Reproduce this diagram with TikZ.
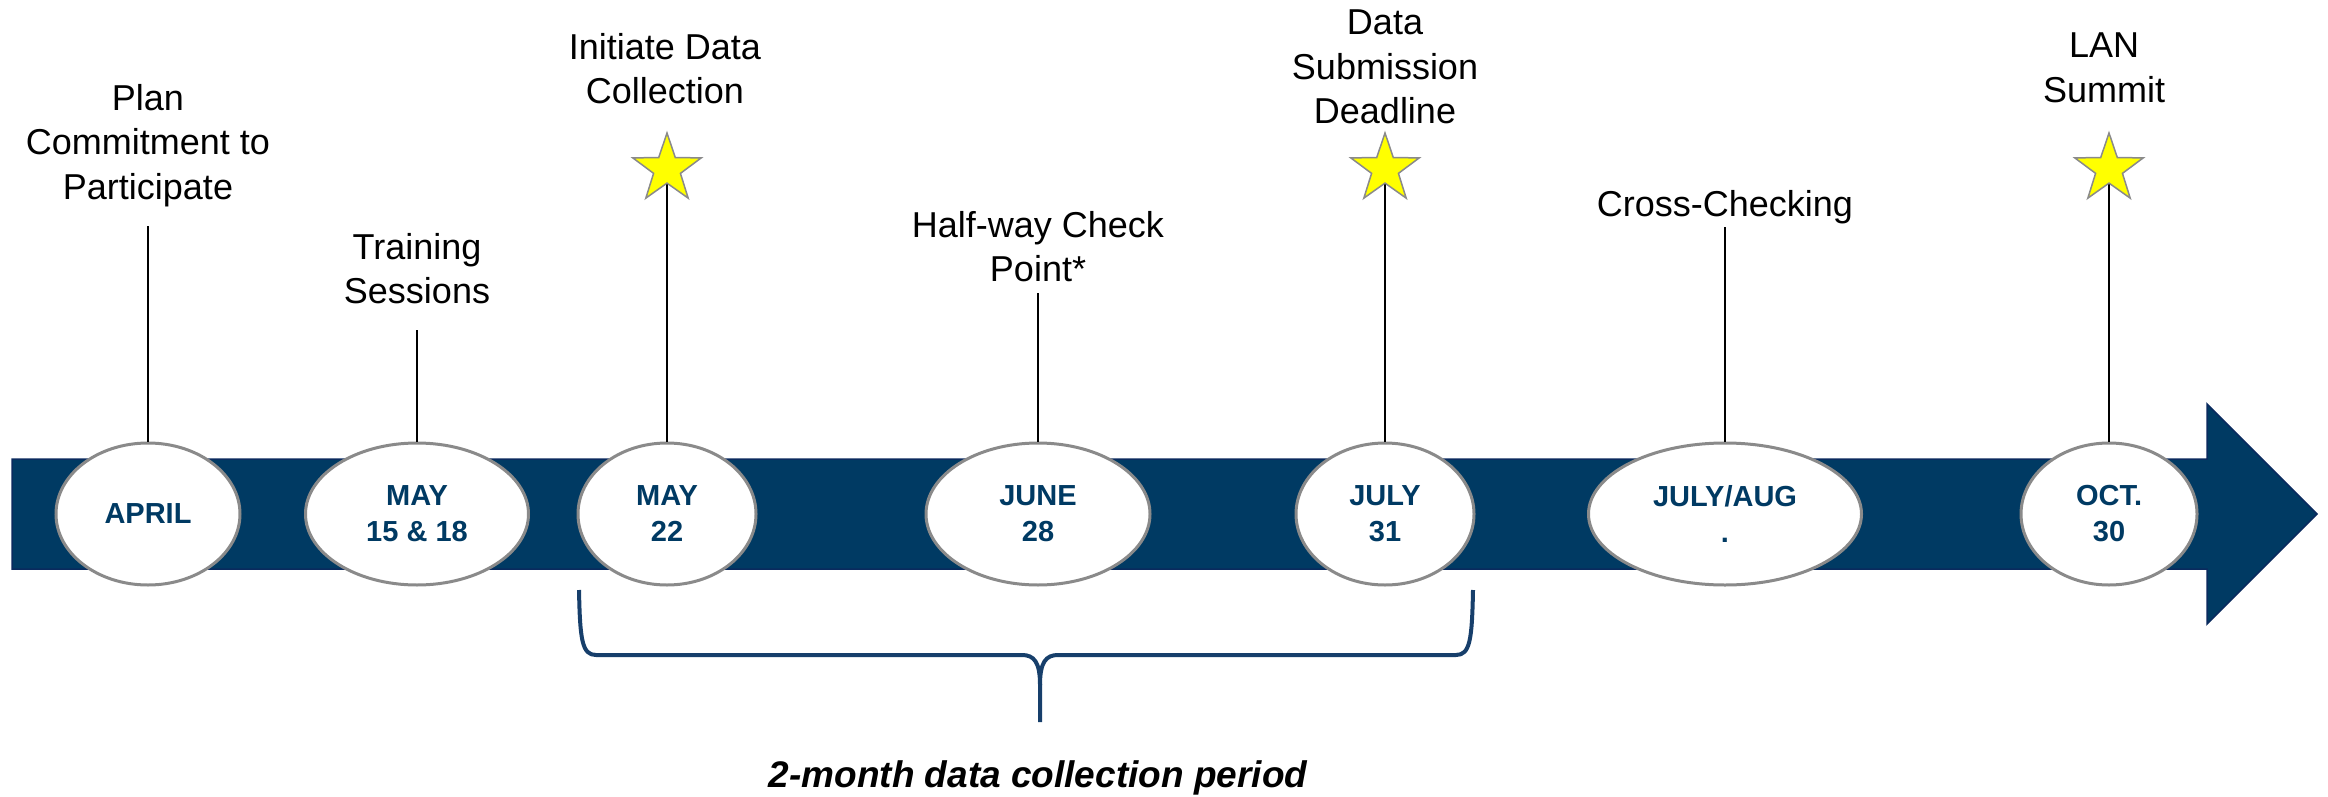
\documentclass[tikz,border=0pt]{standalone}
\usepackage{fontspec}
\setmainfont{Liberation Sans}
\usetikzlibrary{shapes.geometric}
\definecolor{barblue}{HTML}{003A63}
\definecolor{baredge}{HTML}{0A2A5E}
\definecolor{rimgray}{HTML}{8A8A8A}
\definecolor{bracecol}{HTML}{173F6B}
\definecolor{staryellow}{HTML}{FFFF00}
\tikzset{
  datebox/.style={ellipse, draw=rimgray, line width=3pt, fill=white,
    minimum height=142pt, inner sep=0pt, align=center, text=barblue,
    font=\fontsize{29}{36}\selectfont\bfseries},
  eventlabel/.style={anchor=north, inner sep=0pt, align=center, text=black,
    font=\fontsize{36}{44.5}\selectfont},
  milestone/.style={star, star points=5, star point ratio=2.55,
    minimum size=72pt, inner sep=0pt, fill=staryellow, draw=rimgray,
    line width=1.5pt},
  tick/.style={draw=black, line width=1.5pt}
}
\begin{document}
\begin{tikzpicture}[x=1pt, y=-1pt]
\useasboundingbox (0,0) rectangle (2328,797);

% timeline arrow
\path[fill=barblue, draw=baredge, line width=1.5pt]
  (12,459) -- (2207,459) -- (2207,404) -- (2317,514) -- (2207,624)
  -- (2207,569) -- (12,569) -- cycle;

% date ellipses
\node[datebox, minimum width=184pt] (e1) at (148,514) {APRIL};
\node[datebox, minimum width=223pt] (e2) at (417,514) {MAY\\15 \& 18};
\node[datebox, minimum width=178pt] (e3) at (667,514) {MAY\\22};
\node[datebox, minimum width=224pt] (e4) at (1038,514) {JUNE\\28};
\node[datebox, minimum width=178pt] (e5) at (1385,514) {JULY\\31};
\node[datebox, minimum width=273pt] (e6) at (1725,514) {JULY/AUG\\.};
\node[datebox, minimum width=176pt] (e7) at (2109,514) {OCT.\\30};

% event labels
\node[eventlabel] (l1) at (148,84) {Plan\\Commitment to\\Participate};
\node[eventlabel] (l2) at (417,233) {Training\\Sessions};
\node[eventlabel] (l3) at (665,33) {Initiate Data\\Collection};
\node[eventlabel] (l4) at (1038,211) {Half-way Check\\Point*};
\node[eventlabel] (l5) at (1385,10) {Data\\Submission\\Deadline};
\node[eventlabel] (l6) at (1725,190) {Cross-Checking};
\node[eventlabel] (l7) at (2104,33) {LAN\\Summit};

% stick ends
\coordinate (t1) at (148,226);
\coordinate (t2) at (417,330);
\coordinate (t4) at (1038,293);
\coordinate (t6) at (1725,227);

% sticks
\draw[tick] (e1.north) -- (t1);
\draw[tick] (e2.north) -- (t2);
\draw[tick] (e3.north) -- (667,169);
\draw[tick] (e4.north) -- (t4);
\draw[tick] (e5.north) -- (1385,169);
\draw[tick] (e6.north) -- (t6);
\draw[tick] (e7.north) -- (2109,169);

% stars
\node[milestone] (s3) at (667,169) {};
\node[milestone] (s5) at (1385,169) {};
\node[milestone] (s7) at (2109,169) {};

% brace under the collection period
\coordinate (bl) at (579,590);
\coordinate (br) at (1473,590);
\coordinate (bt) at (1040,722);
\draw[draw=bracecol, line width=4pt, line join=round]
  (bl) .. controls (580,640) and (582,655) .. (596,655)
  -- (1022,655) .. controls (1034,655) and (1040,662) .. (1040,685)
  -- (bt);
\draw[draw=bracecol, line width=4pt, line join=round]
  (br) .. controls (1472,640) and (1470,655) .. (1456,655)
  -- (1058,655) .. controls (1046,655) and (1040,662) .. (1040,685);

\node[anchor=base, inner sep=0pt, font=\fontsize{37}{44}\selectfont\bfseries\itshape]
  (cap) at (1038,787) {2-month data collection period};
\end{tikzpicture}
\end{document}
